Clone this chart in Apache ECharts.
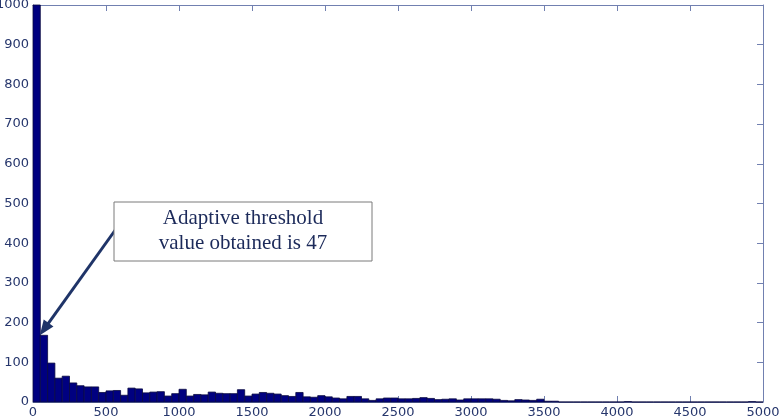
<!DOCTYPE html>
<html>
<head>
<meta charset="utf-8">
<script src="https://cdn.jsdelivr.net/npm/echarts@6/dist/echarts.min.js"></script>
<style>
  html, body { margin: 0; padding: 0; background: #fff; }
  #main { width: 780px; height: 420px; }
</style>
</head>
<body>
<div id="main"></div>
<script>
// histogram: 100 bins of width 50 from 0 to 5000
const binWidth = 50;
const counts = [
  1000, 168, 98, 60, 65, 48, 41, 38, 38, 24,
  28, 29, 17, 35, 33, 23, 25, 26, 15, 21,
  32, 15, 19, 18, 25, 22, 21, 21, 31, 15,
  20, 24, 22, 20, 16, 14, 24, 13, 12, 16,
  13, 10, 8, 14, 14, 8, 4, 8, 10, 10,
  8, 8, 9, 11, 9, 6, 7, 8, 5, 8,
  8, 8, 8, 7, 4, 3, 6, 5, 4, 7,
  2, 2, 0, 0, 0, 0, 0, 0, 0, 0,
  0, 1, 0, 0, 0, 0, 0, 0, 0, 0,
  0, 0, 0, 0, 0, 0, 0, 0, 1, 0
];
const xTicks = [0, 500, 1000, 1500, 2000, 2500, 3000, 3500, 4000, 4500, 5000];
const yTicks = [0, 100, 200, 300, 400, 500, 600, 700, 800, 900, 1000];
const threshold = 47;
const thresholdCount = 168;
const noteLines = ['Adaptive threshold', 'value obtained is 47'];

const axisColor = '#7180b0';
const labelColor = '#26366c';

const histData = counts.map(function (c, i) {
    return [i * binWidth, (i + 1) * binWidth, c];
});

const chart = echarts.init(document.getElementById('main'));

function axisBase(show, ticks, pos) {
    return {
        type: 'value',
        position: pos,
        min: ticks[0],
        max: ticks[ticks.length - 1],
        interval: ticks[1] - ticks[0],
        axisLine: { show: true, onZero: false, lineStyle: { color: axisColor, width: 1 } },
        axisTick: { show: true, inside: true, length: 6, lineStyle: { color: axisColor } },
        splitLine: { show: false },
        axisLabel: {
            show: show,
            color: labelColor,
            fontFamily: 'DejaVu Sans',
            fontSize: 13,
            margin: 4,
            formatter: function (v) { return String(v); }
        }
    };
}

const option = {
    animation: false,
    backgroundColor: '#ffffff',
    grid: {
        left: 33, top: 5, width: 730, height: 397,
        containLabel: false, outerBoundsMode: 'none'
    },
    xAxis: [axisBase(true, xTicks, 'bottom'), axisBase(false, xTicks, 'top')],
    yAxis: [axisBase(true, yTicks, 'left'), axisBase(false, yTicks, 'right')],
    series: [
        {
            type: 'custom',
            xAxisIndex: 0,
            yAxisIndex: 0,
            data: histData,
            encode: { x: [0, 1], y: 2 },
            renderItem: function (params, api) {
                const p0 = api.coord([api.value(0), api.value(2)]);
                const p1 = api.coord([api.value(1), 0]);
                const shape = echarts.graphic.clipRectByRect({
                    x: p0[0], y: p0[1], width: p1[0] - p0[0], height: p1[1] - p0[1]
                }, {
                    x: params.coordSys.x, y: params.coordSys.y,
                    width: params.coordSys.width, height: params.coordSys.height
                });
                if (!shape) return;
                return {
                    type: 'rect',
                    shape: shape,
                    style: { fill: '#000080', stroke: '#0a0a40', lineWidth: 0.8 }
                };
            }
        }
    ]
};

chart.setOption(option);

// annotation box + arrow pointing at the threshold bin
const tip = chart.convertToPixel({ xAxisIndex: 0, yAxisIndex: 0 }, [threshold, thresholdCount]);
const box = { x: 114, y: 202, w: 258, h: 59 };
const tail = [box.x + 2, box.y + 27];
const dx = tip[0] - tail[0], dy = tip[1] - tail[1];
const len = Math.sqrt(dx * dx + dy * dy);
const ux = dx / len, uy = dy / len;
const headLen = 15, headW = 6;
const base = [tip[0] - ux * headLen, tip[1] - uy * headLen];

chart.setOption({
    graphic: [
        {
            type: 'line',
            shape: { x1: tail[0], y1: tail[1], x2: base[0] + ux * 2, y2: base[1] + uy * 2 },
            style: { stroke: '#1f3468', lineWidth: 3 },
            z: 100
        },
        {
            type: 'polygon',
            shape: {
                points: [
                    tip,
                    [base[0] - uy * headW, base[1] + ux * headW],
                    [base[0] + uy * headW, base[1] - ux * headW]
                ]
            },
            style: { fill: '#1f3468' },
            z: 100
        },
        {
            type: 'rect',
            shape: { x: box.x, y: box.y, width: box.w, height: box.h },
            style: { fill: '#ffffff', stroke: '#7a7a7a', lineWidth: 1 },
            z: 101
        },
        {
            type: 'text',
            x: box.x + box.w / 2,
            y: box.y + 16,
            style: {
                text: noteLines[0],
                fill: '#1c2a5a',
                font: '21px "Liberation Serif"',
                align: 'center',
                verticalAlign: 'middle'
            },
            z: 102
        },
        {
            type: 'text',
            x: box.x + box.w / 2,
            y: box.y + 41,
            style: {
                text: noteLines[1],
                fill: '#1c2a5a',
                font: '21px "Liberation Serif"',
                align: 'center',
                verticalAlign: 'middle'
            },
            z: 102
        }
    ]
});
</script>
</body>
</html>
